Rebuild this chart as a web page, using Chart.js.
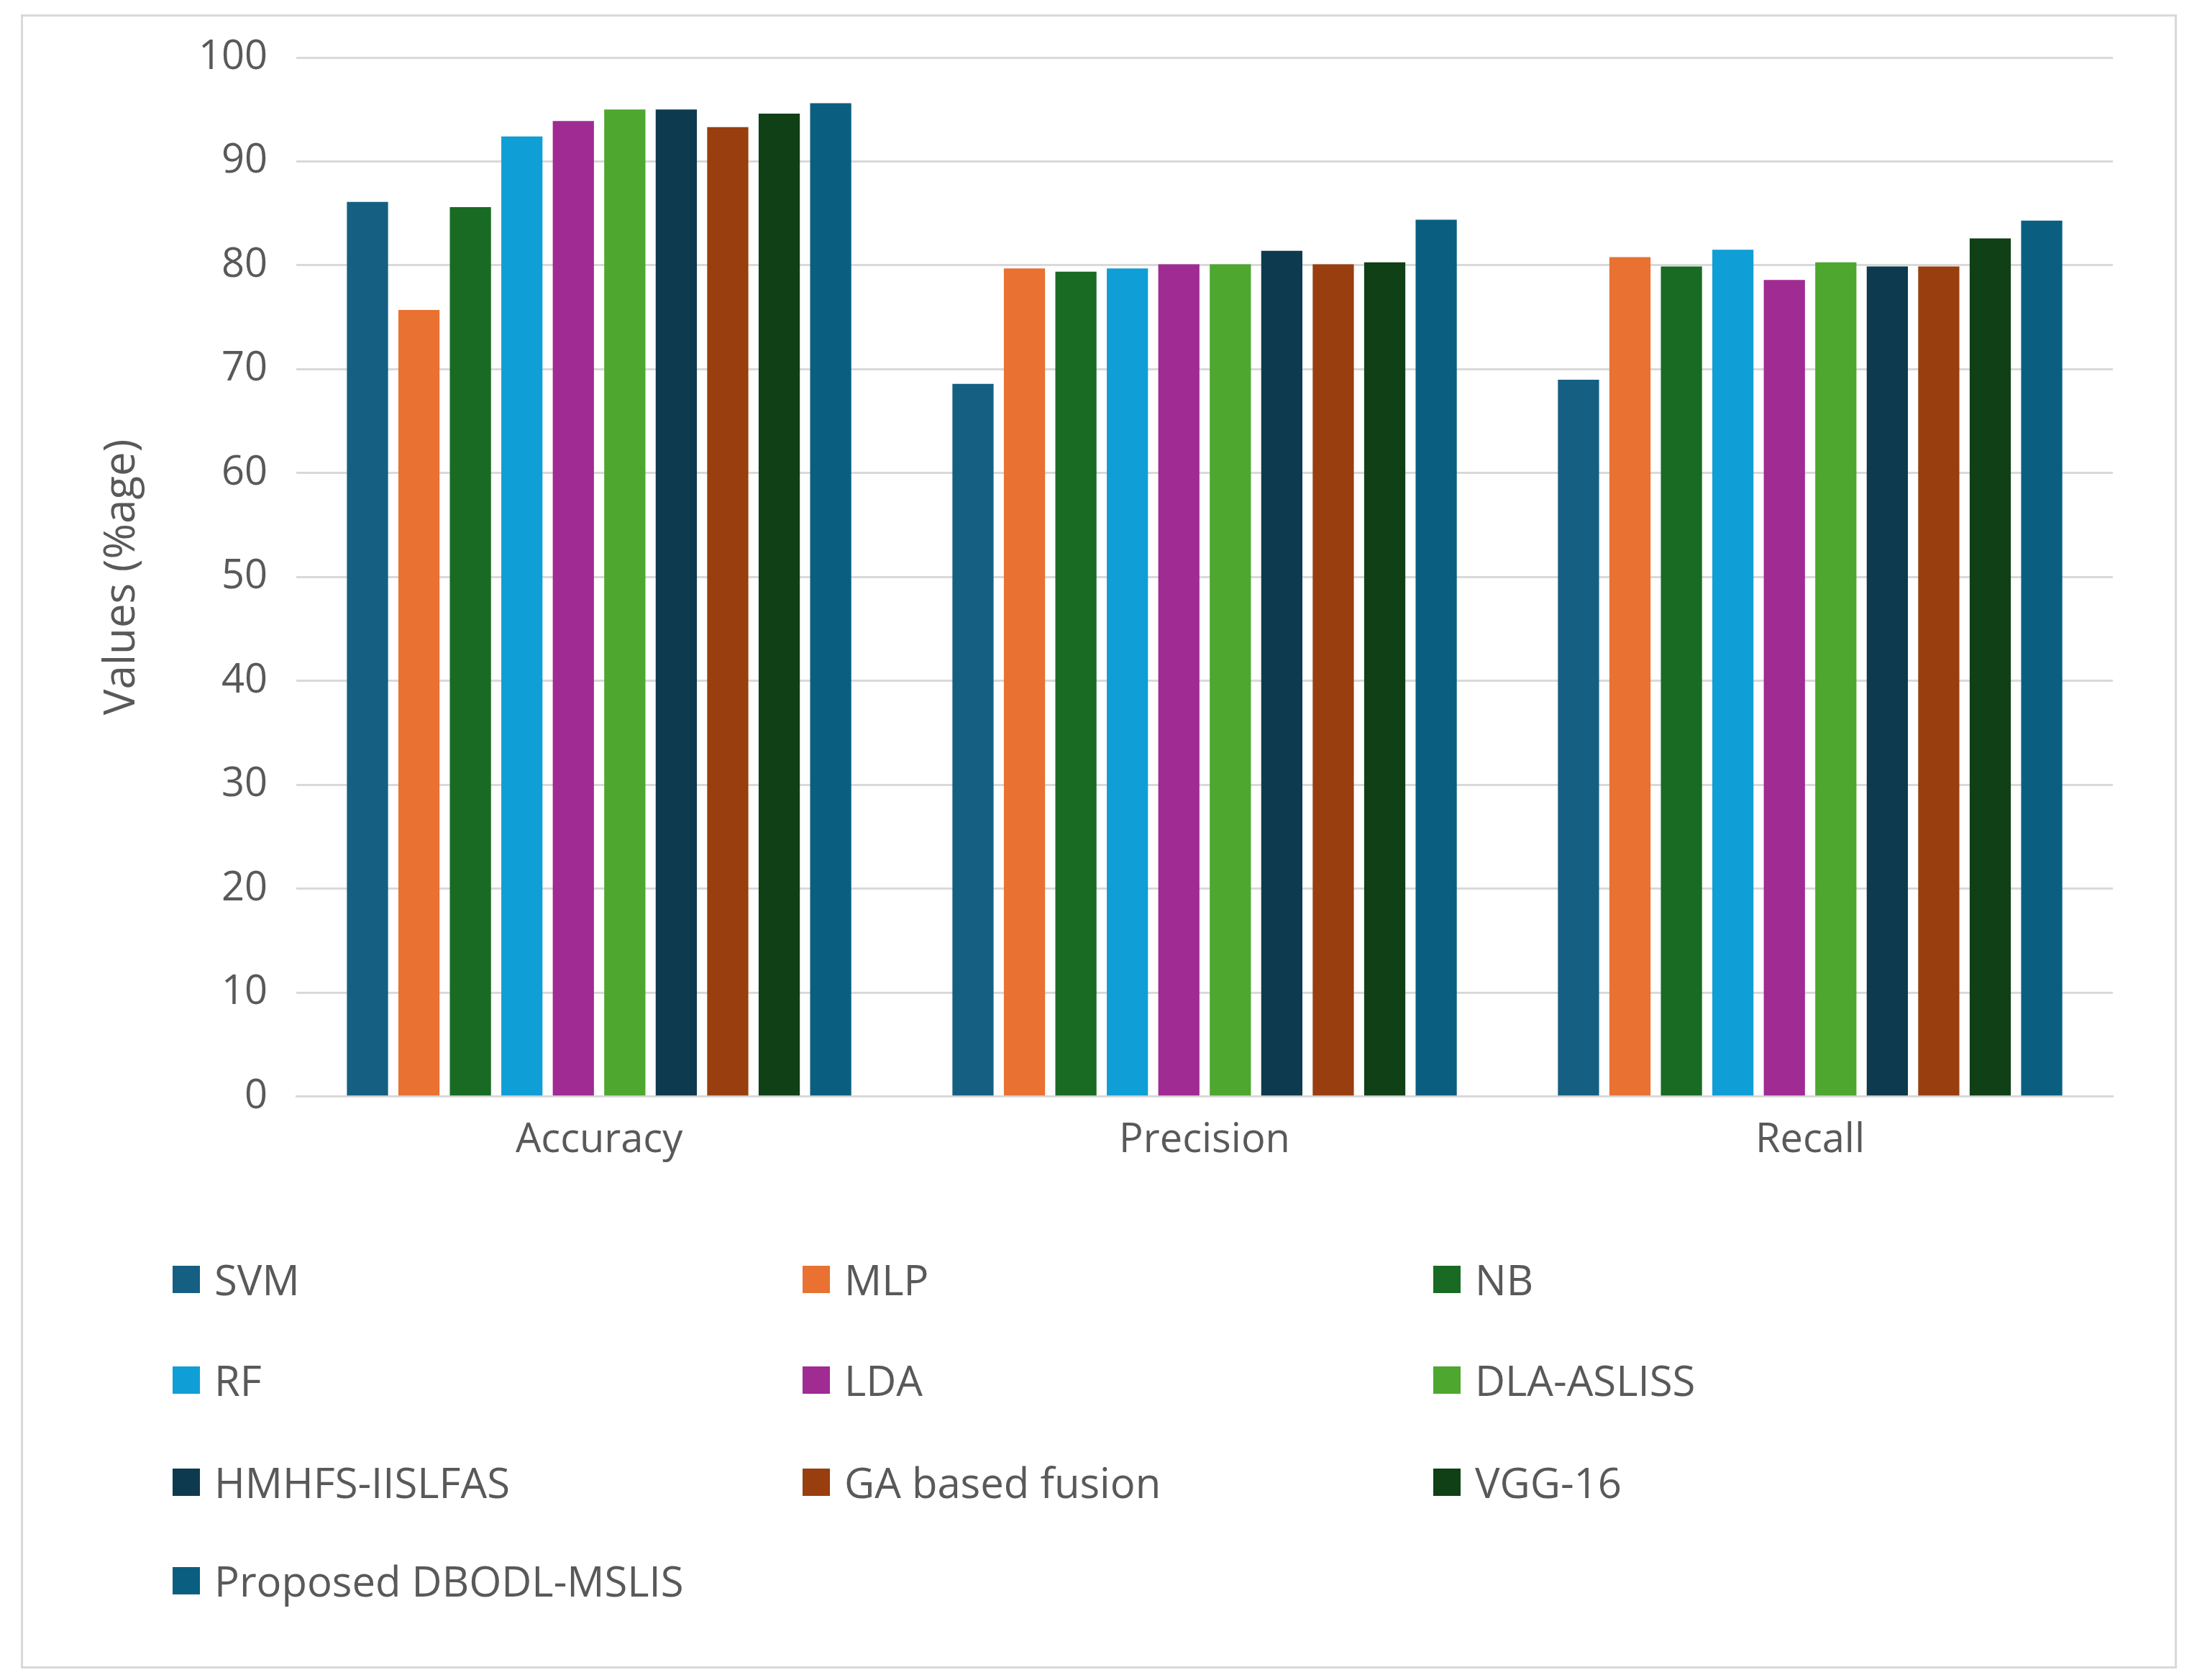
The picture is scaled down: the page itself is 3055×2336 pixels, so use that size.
<!DOCTYPE html>
<html><head><meta charset="utf-8">
<script src="https://cdn.jsdelivr.net/npm/chart.js@4"></script>
<style>
html,body{margin:0;padding:0;background:#fff;}
#frame{position:absolute;left:29px;top:20px;width:2998px;height:2300px;border:3px solid #d9d9d9;box-sizing:border-box;}
#wrap{position:absolute;left:0;top:0;width:3055px;height:1680px;}
#legend{position:absolute;left:0;top:0;width:3055px;height:2336px;pointer-events:none;font-family:"Open Sans","Liberation Sans",sans-serif;font-size:58px;color:#595959;}
.li{position:absolute;display:flex;align-items:center;white-space:nowrap;}
.sw{width:38px;height:38px;margin-right:20px;}
</style></head><body>
<div id="frame"></div>
<div id="wrap"><canvas id="c"></canvas></div>
<div id="legend"></div>
<script>
const categories = ["Accuracy","Precision","Recall"];
const seriesNames = ["SVM","MLP","NB","RF","LDA","DLA-ASLISS","HMHFS-IISLFAS","GA based fusion","VGG-16","Proposed DBODL-MSLIS"];
const SVM = [86.1,68.6,69.0];
const MLP = [75.7,79.7,80.8];
const NB = [85.6,79.4,79.9];
const RF = [92.4,79.7,81.5];
const LDA = [93.9,80.1,78.6];
const DLA = [95.0,80.1,80.3];
const HMHFS = [95.0,81.4,79.9];
const GA = [93.3,80.1,79.9];
const VGG = [94.6,80.3,82.6];
const Proposed = [95.6,84.4,84.3];
const yTicks = [0,10,20,30,40,50,60,70,80,90,100];
const colors = ["#156082","#E97132","#196B24","#0F9ED5","#A02B93","#4EA72E","#0D3A4E","#993E0F","#0F4016","#0A5F80"];
const values = [SVM,MLP,NB,RF,LDA,DLA,HMHFS,GA,VGG,Proposed];

const font = {family:'"Open Sans","Liberation Sans",sans-serif', size:56};
new Chart(document.getElementById('c'), {
  type:'bar',
  data:{labels:categories, datasets: seriesNames.map((n,i)=>({label:n,data:values[i],backgroundColor:colors[i],categoryPercentage:0.85,barPercentage:0.8}))},
  options:{
    responsive:true, maintainAspectRatio:false, animation:false,
    devicePixelRatio:1,
    layout:{padding:{left:130,right:117,top:80,bottom:40}},
    plugins:{legend:{display:false},tooltip:{enabled:false}},
    scales:{
      x:{grid:{display:false},border:{color:'#d9d9d9',width:3},ticks:{color:'#595959',font:font,padding:20}},
      y:{min:0,max:100,afterBuildTicks:a=>{a.ticks=yTicks.map(v=>({value:v}));},
         grid:{color:'#d9d9d9',lineWidth:3,drawTicks:false},border:{display:false},
         ticks:{color:'#595959',font:font,padding:40},
         title:{display:true,text:'Values (%age)',color:'#595959',font:{family:font.family,size:60},padding:{bottom:30}}}
    }
  }
});
const lg=document.getElementById('legend');
const cols=[240,1116,1993], rows=[1779,1919,2061,2198];
seriesNames.forEach((n,i)=>{
  const d=document.createElement('div');d.className='li';
  d.style.left=cols[i%3]+'px';d.style.top=(rows[Math.floor(i/3)]-40)+'px';
  d.innerHTML='<div class="sw" style="background:'+colors[i]+'"></div><span>'+n+'</span>';
  lg.appendChild(d);
});
</script>
</body></html>
